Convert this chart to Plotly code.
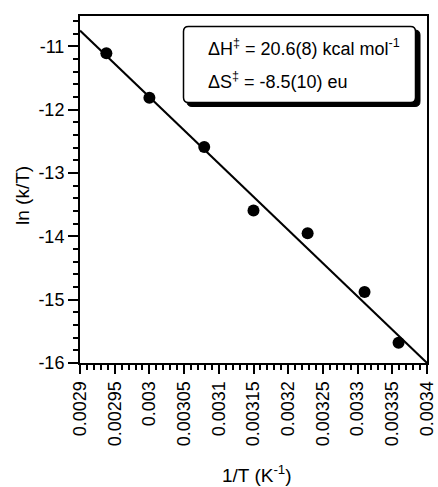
import plotly.graph_objects as go

# Data
inv_T = [0.002938, 0.003000, 0.003079, 0.003150, 0.003228, 0.003310, 0.003359]
ln_kT = [-11.11, -11.81, -12.59, -13.59, -13.95, -14.88, -15.68]

fit_x = [0.0029, 0.0034]
fit_y = [-10.75, -16.0]

x_tickvals = [0.0029, 0.00295, 0.003, 0.00305, 0.0031, 0.00315, 0.0032,
              0.00325, 0.0033, 0.00335, 0.0034]
x_ticktext = ["0.0029", "0.00295", "0.003", "0.00305", "0.0031", "0.00315",
              "0.0032", "0.00325", "0.0033", "0.00335", "0.0034"]
y_tickvals = [-16, -15, -14, -13, -12, -11]
y_ticktext = ["-16", "-15", "-14", "-13", "-12", "-11"]

W, H = 438, 487
ML, MR, MT, MB = 80, 11, 16, 124
PW = W - ML - MR
PH = H - MT - MB

def px(x):
    return (x - ML) / PW

def py(y):
    return (H - MB - y) / PH

FONT = "Liberation Sans, Arial, sans-serif"

fig = go.Figure()
fig.add_trace(go.Scatter(x=fit_x, y=fit_y, mode="lines",
                         line=dict(color="black", width=2), showlegend=False))
fig.add_trace(go.Scatter(x=inv_T, y=ln_kT, mode="markers",
                         marker=dict(color="black", size=12), showlegend=False))

def rounded_rect(x0, y0, x1, y1, r):
    rx = r / PW
    ry = r / PH
    X0, X1 = px(x0), px(x1)
    Y0, Y1 = py(y1), py(y0)
    return (f"M {X0+rx},{Y0} L {X1-rx},{Y0} Q {X1},{Y0} {X1},{Y0+ry} "
            f"L {X1},{Y1-ry} Q {X1},{Y1} {X1-rx},{Y1} "
            f"L {X0+rx},{Y1} Q {X0},{Y1} {X0},{Y1-ry} "
            f"L {X0},{Y0+ry} Q {X0},{Y0} {X0+rx},{Y0} Z")

shapes = [
    dict(type="path", xref="paper", yref="paper", layer="above",
         path=rounded_rect(187, 30, 420, 106.5, 5),
         fillcolor="black", line=dict(color="black", width=1)),
    dict(type="path", xref="paper", yref="paper", layer="above",
         path=rounded_rect(183.5, 26.5, 415.5, 102.5, 5),
         fillcolor="white", line=dict(color="black", width=1.5)),
]

annotations = [
    dict(text="ΔH<sup>‡</sup> = 20.6(8) kcal mol<sup>-1</sup>",
         x=px(206), y=py(47), xref="paper", yref="paper",
         xanchor="left", yanchor="middle", showarrow=False,
         font=dict(family=FONT, size=18, color="black")),
    dict(text="ΔS<sup>‡</sup> = -8.5(10) eu",
         x=px(206), y=py(80), xref="paper", yref="paper",
         xanchor="left", yanchor="middle", showarrow=False,
         font=dict(family=FONT, size=18, color="black")),
    dict(text="ln (k/T)", textangle=-90,
         x=px(22), y=py(196), xref="paper", yref="paper",
         xanchor="center", yanchor="middle", showarrow=False,
         font=dict(family=FONT, size=19, color="black")),
    dict(text="1/T (K<sup>-1</sup>)",
         x=px(257), y=py(474), xref="paper", yref="paper",
         xanchor="center", yanchor="middle", showarrow=False,
         font=dict(family=FONT, size=19, color="black")),
]

fig.update_layout(
    width=W, height=H, autosize=False,
    margin=dict(l=ML, r=MR, t=MT, b=MB, pad=0, autoexpand=False),
    paper_bgcolor="white", plot_bgcolor="white",
    font=dict(family=FONT, size=18, color="black"),
    shapes=shapes, annotations=annotations,
    xaxis=dict(range=[0.0029, 0.0034], tickmode="array", automargin=False,
               tickvals=x_tickvals, ticktext=x_ticktext, tickangle=-90,
               ticks="outside", ticklen=9, tickwidth=2, tickcolor="black",
               minor=dict(dtick=0.00001, tick0=0.0029, ticks="outside",
                          ticklen=5, tickwidth=1.5, tickcolor="black",
                          showgrid=False),
               showline=True, linewidth=2, linecolor="black", mirror=True,
               showgrid=False, zeroline=False,
               tickfont=dict(family=FONT, size=18, color="black")),
    yaxis=dict(range=[-16, -10.52], tickmode="array", automargin=False,
               tickvals=y_tickvals, ticktext=y_ticktext,
               ticks="outside", ticklen=10, tickwidth=2, tickcolor="black",
               minor=dict(dtick=0.2, tick0=-16, ticks="outside",
                          ticklen=5, tickwidth=1.5, tickcolor="black",
                          showgrid=False),
               showline=True, linewidth=2, linecolor="black", mirror=True,
               showgrid=False, zeroline=False,
               tickfont=dict(family=FONT, size=18, color="black")),
)

fig.write_html("out.html",
               config={"displayModeBar": False, "responsive": False},
               post_script="document.body.style.margin='0px';"
                           "document.body.style.overflow='hidden';")
